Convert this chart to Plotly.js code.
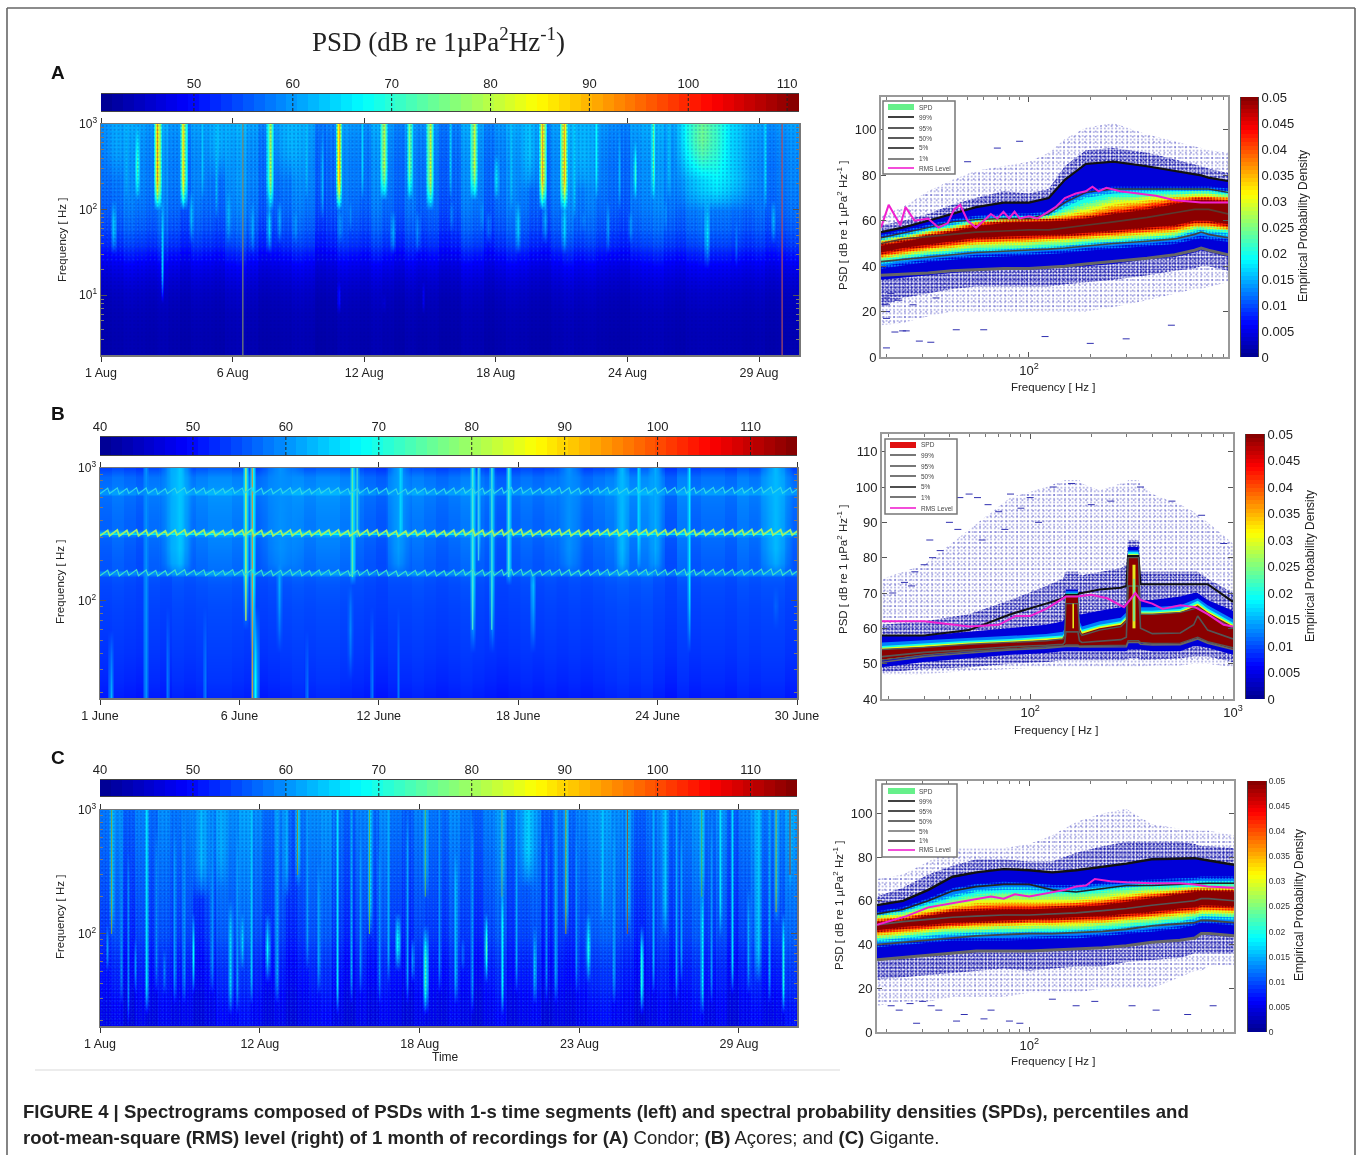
<!DOCTYPE html>
<html><head><meta charset="utf-8">
<script src="https://cdn.plot.ly/plotly-3.0.1.min.js"></script>
<style>html,body{margin:0;padding:0;background:#fff}#gd{width:1360px;height:1155px;filter:blur(.55px)}</style>
</head><body><div id="gd"></div>
<script>
/* ---------- spectrogram data ---------- */
const rowsA=[2,3,4,6,8,11,15,20,30,40,55,75,100,130,170,230,320,450,650,1000];
const baseA=[43,43,43.2,43.5,43.8,44.5,45.5,47,49.5,52,53.5,54.5,55.5,56,56.5,57,57,57.5,58,59];
const weightA=[.2,.2,.2,.2,.3,.3,.4,.5,.6,.7,.8,.8,.8,.8,.8,.8,.8,.8,.8,.8];
const liftA=[0,1,3,2,1,3,1,-1,2,1,0,3,4,2,-1,0,1,3,2,-2,-1,2,1,0,3,1,-1,2,0,1,-2,-1,3,2,-1,1,3,2,0,-1,2,4,2,3,1,0,-1,2,3,4,2,1,3,4,3,3,2,1,2,0,1,2];
const eventsA=[[1.7,.7,300,1000,61],[6.2,.7,300,1000,62],[9.4,1,250,1000,62],[20,.5,200,1000,63],[22.4,.8,200,1000,62],[28.3,1.9,130,1000,67],[27.7,1.2,250,1000,75],
[2.6,.2,140,900,73],[3.5,.28,130,1000,91],[4.65,.22,130,1000,87],[8.5,.22,120,1000,80],[11.55,.16,130,1000,90],[13.55,.22,150,1000,80],[14.7,.14,150,1000,76],[15.6,.24,130,1000,82],[17.55,.24,140,1000,82],[18.55,.16,150,400,71],[20.6,.22,120,1000,91],[21.55,.24,130,1000,90],[23,.12,150,1000,67],[24.7,.12,150,500,73],[25.5,.12,150,1000,75],
[1.55,.14,35,100,65],[3.7,.1,11,100,64],[5,.15,50,130,64],[6.65,.14,50,130,63],[7.7,.14,35,100,62],[8.45,.15,35,100,67],[8.9,.14,50,100,65],[9.6,.14,45,90,64],[11.6,.14,50,80,65],[12.05,.1,60,100,63],[13.95,.2,35,90,65],[15.05,.14,40,75,62],[16.55,.14,60,100,63],[17.9,.1,70,110,63],[18.2,.15,55,80,64],[19.5,.14,35,110,65],[20.7,.15,55,100,65],[21.55,.15,40,100,66],[22.4,.15,65,90,67],[23.5,.1,40,100,61],[24.5,.2,55,90,66],[26.05,.1,70,100,63],[27.9,.2,30,100,66],[29.2,.1,30,60,60],[30.85,.15,45,100,67],[11.55,.1,7,11,60],[13.55,.1,7,9,54],[15.3,.1,8,11,56],
[2.1,.1,150,1000,62],[5.5,.1,150,1000,63],[6.1,.1,100,1000,63],[10.1,.1,150,1000,63],[10.8,.1,100,800,62],[12.6,.1,150,1000,64],[16.5,.1,150,1000,64],[19.2,.1,120,1000,63],[22,.1,100,1000,64],[24,.1,120,800,62],[26.2,.1,150,1000,63],[30.5,.1,120,1000,65]];
const thinDayA=[7.3,31.25];
const thinLoA=[2,2];
const thinColorA=['#7d8a70','#b05060'];
const rowsB=[18.3,25,40,60,90,130,150,157,163,170,190,250,295,310,320,332,345,400,520,610,640,665,690,730,850,1000];
const baseB=[51,52,53,53.5,54,54.5,55,59,59,55.5,55.5,56,56.5,59,66,59,56.5,56.5,57,57.5,60,60,58,57.5,57,54];
const weightB=[.4,.4,.3,.3,.3,.4,.5,.7,.7,.7,.8,.9,.9,.9,.7,.9,.9,.9,.9,.9,.9,.9,.9,.9,.9,.8];
const liftB=[0,1,0,-1,1,0,2,1,2,3,3,2,1,0,1,2,3,2,3,3,2,1,0,-1,1,1,2,1,0,1,2,1,0,-1,0,1,0,1,0,1,0,1,2,3,2,3,1,-1,2,0,1,1,0,2,1,2,2,0];
const eventsB=[[3.95,.5,170,1000,61],[4.3,.5,170,1000,64],[8.5,.9,170,1000,60],[13.4,.5,170,1000,61],[20.5,.6,170,1000,60],[22.7,.3,170,1000,63],[24.1,.3,170,1000,62],[29.1,.7,170,1000,63],
[7.07,.16,70,1000,68],[7.34,.16,60,1000,68],[11.5,.16,150,1000,67],[11.7,.12,300,1000,64],[16.5,.16,60,1000,66],[16.75,.12,200,1000,63],[17.3,.16,60,1000,65],[18,.16,150,1000,66],
[7.44,.24,18.3,60,68],[13.5,.12,300,1000,65],[23.4,.12,180,1000,65],[25.5,.12,50,1000,67],[2.9,.14,18.3,1000,60],
[1.43,.14,18.3,50,63],[8.45,.14,60,170,62],[19,.14,60,160,63],[29.1,.14,70,100,64],[12.3,.1,18.3,60,58],[13.4,.1,18.3,60,58],[5.37,.1,18.3,60,58],[3.8,.1,18.3,60,58],[9.6,.1,18.3,40,58],[11.4,.14,40,100,62],[25.5,.1,70,120,62]];
const thinDayB=[7.07,7.34,11.5,11.7,16.5,16.75,17.3,18];
const thinLoB=[70,18.3,150,300,60,200,60,150];
const thinColorB=['#b8e060','#c09a50','#60e8a0','#40d0d0','#50e0d0','#40c8e8','#40d8d8','#50e0d8'];
const rowsC=[18,22,27,33,40,50,62,77,95,120,150,190,240,300,380,480,600,750,1000];
const baseC=[47,47,47.5,48,49,49.5,50,51,52,52.5,53,53.5,54,54.5,55,55.5,56,56.5,57];
const weightC=[.6,.6,.6,.7,.7,.7,.8,.8,.9,.9,.9,.9,.9,.9,.9,.9,.9,.9,.9];
const liftC=[1,3,-1,2,0,3,1,2,-1,1,4,3,5,3,0,2,-1,1,3,4,1,-1,2,0,3,1,-1,2,1,0,3,1,-1,2,4,0,2,3,-1,1,0,2,4,5,3,2,-1,1,3,0,2,4,1,3,-1,2,4,1,2,5,4,2];
const eventsC=[[1.5,.14,100,1000,64],[9.5,.14,300,1000,65],[12.6,.14,100,1000,65],[15,.14,200,1000,64],[18.3,.14,200,1000,65],[21.05,.14,100,1000,66],[23.7,.14,100,1000,64],[26.9,.14,200,1000,65],[30.1,.14,150,1000,65],[30.7,.14,300,1000,64],
[3,.12,25,1000,66],[5.35,.45,200,1000,63],[6.6,.15,25,150,66],[7.1,.12,60,130,68],[7.5,.12,30,1000,64],[8.2,.15,50,120,68],[11.2,.1,25,1000,66],[13.8,.14,60,130,72],[15,.15,25,100,74],[16.3,.1,30,400,63],[17.6,.12,50,130,74],[18.3,.12,25,200,68],[19.4,.4,300,1000,65],[19.7,.1,30,100,64],[22,.14,50,120,70],[24.3,.12,25,100,70],[25.3,.14,100,1000,64],[26.9,.12,25,200,68],[27.7,.1,100,1000,66],[28.2,.1,35,1000,66],[29.3,.25,45,1000,64],[30.4,.12,25,120,70],
[14.45,.12,50,90,66],[5,.12,35,120,68],[3.75,.12,40,70,64],[1.3,.12,60,110,66],[2.5,.12,40,80,62],[16.6,.12,60,90,64],[4.2,.1,30,600,60],[10.4,.1,40,300,61],[20.2,.1,30,600,60],[26,.1,50,600,61],[28.9,.1,40,200,62],[13,.1,30,500,60],[6.2,.3,300,1000,62],[22.6,.1,150,1000,64],[9,.25,200,1000,62],
[1.9,.1,30,1000,60],[2.2,.1,20,400,59],[3.4,.1,40,600,60],[4.6,.1,30,800,60],[5.8,.1,40,1000,60],[6.9,.1,25,700,61],[8.6,.1,30,1000,62],[9.9,.1,60,1000,61],[11.8,.1,30,1000,62],[12.2,.1,40,600,60],[13.4,.1,50,1000,62],[14.2,.1,30,800,61],[15.6,.1,40,1000,60],[17,.1,25,800,61],[18.9,.1,40,1000,62],[20.6,.1,30,1000,61],[21.5,.1,40,700,60],[23.1,.1,30,900,61],[24.8,.1,40,1000,62],[25.8,.1,30,1000,62],[27.3,.1,30,800,60],[29.8,.1,30,1000,62]];
const thinDayC=[1.5,9.5,12.6,15,18.3,21.05,23.7,26.9,30.1,30.7];
const thinLoC=[100,300,100,200,200,100,100,200,150,300];
const thinColorC=['#80a040','#809040','#60b060','#60b060','#60a080','#a89020','#985030','#50b060','#a0a030','#983030'];

/* harmonic tone wiggle of panel B (Hz), read alternately low and high */
const toneB320=[307,338,308,340,306,337,309,341,307,339,308,337,305,335,308,339,311,341,309,338,310,340,308,336,306,337,311,341,309,339,310,342,308,338,306,336,307,337,309,341,308,340,306,335,307,339,310,340,311,341,309,336,307,337,309,341,310,340,308,338,306,334,304,333,306,337,309,338,307,336,305,335,307,339,308,341,310,342,309,339,307,337,308,341,310,342,311,343,309,339,307,337,309,340,311,343,310,341,308,338,307,339,309,341,311,343,310,340,308,338,309,341,311,342,310,340,309,341,311,343,312,344,310,341,309,339,310,342,312,344,311,342,309,340,311,343,312,344,313,345,311,342,310,341,312,344];
const toneFactors=[.5,1,2.08];
const toneColors=['#40dcc8','#9cf06a','#30d4e8'];
const toneWidths=[1.2,1.8,1.2];

/* ---------- SPD A ---------- */
const fA=[18.8,24,32,42,55,75,100,125,150,190,260,380,520,650,700,760,948];
const aOutUp=[62,66,73,78,82,84,86,90,96,101,103,98,95,93,92,91,90];
const aOutLo=[14,15,18,20,20,20,20,20,20,20,22,25,28,30,30,31,33];
const aFrUp=[58,60,63,67,70,73,72,74,84,91,92,90,87,85,84,83,81];
const aFrLo=[22,26,28,30,31,31,31,31,32,33,34,36,38,39,40,40,38];
const aU05=[55,57,60,63,66,68,68,70,78,85,86,84,82,80.5,80,79,77.5];
const aL05=[34,35,36,37,38,38.5,38.5,39,39.5,40,41,43,44,46,47,46,44];
const aU12=[52.5,54.5,57,59.5,61,62,62,63,68,72,74,74,74,74,74,74,73];
const aL12=[40,41.5,43,44,45,45.5,46,46.5,47,48,49,50,51,53,53.5,53,52];
const aU20=[51.5,53,56,58,60,61,61,62,66,70,72,72.5,73,73,73,73,72];
const aL20=[42,43.5,45,46,47,47.5,48,48.5,49,50,51,52,53,55.5,56,55.5,54.5];
const aU25=[51,52.5,55,57,59.5,60.5,60.5,61.5,64,67,70,71,71.5,72,72,72,71];
const aL25=[43,44.5,46,47,48,48.5,49,49.5,50,51,52,53,54,56.5,57,56.5,56];
const aU30=[50.5,52,54.5,56.5,59,60,60.2,61,62.5,65,68,69.5,70.5,71,71,71,70];
const aL30=[44,45.5,47,48,49.5,50,50.5,51,51.5,52,53,54,55,57.5,58,57.5,56.5];
const aU35=[50,51.5,54,56,58.5,59.7,60,60.5,61.5,63,66,68,69.5,70,70,70,69.5];
const aL35=[44.5,46,48,49,50.5,51,51.5,52,52.5,53,54,55,56,58,58,58,57];
const aU40=[49.5,51,53.5,55.5,58,59.5,59.8,60,60.5,61.5,64,66.5,68.5,69.5,69.5,69.5,69];
const aL40=[45,47,48.5,50,51.5,52,52.5,53,53.2,54,55,56,57,59,59,59,57.5];
const aU47=[49,50.5,53,55,57.5,59,59.5,59.8,60,61,63,65,67.5,69,69,69,68];
const aL47=[46,48,49.5,51,52.5,53,53.5,53.8,54,55,56,57,58,60,60,60,58.5];
const aP99=[55,57,60,63,66,68,68,70,78,85,86,84,82,80.5,80,79,77.5];
const aP95=[52.5,54.5,57,59.5,60.5,61,61,63,68,72.5,74,74,74,74,74,74,72.5];
const aP50=[50,52,53,54,55,55.5,56,56,57,58,59.5,61.5,63.5,65,65,65,63];
const aP05=[42,43,44,45,46,46.5,47,47.5,48,49,50,51,52,54,55,54,52.5];
const aP01=[36,36.5,37,38,38.5,39,39,39.5,40,41,42,43.5,45,47,48,47,45];
const aRmsF=[18.8,20.5,23.4,24.8,27.5,32,36,40,43,46,50,55,60,65,70,75,80,85,90,100,110,120,135,150,170,190,205,220,240,280,340,420,520,700,948];
const aRms=[57,67,58,66,60,61,57,59,65,67,60,57,60,63,61,64,61,64,61,62,61,63,66,70,72,73,75,73,74.5,73,72,71,69,68,68];
const aDotF=[22,24,25,29,33,20,20,20,20,20,21,23,27,35,44,60,120,200,300,500,24,28,50,70,90];
const aDotV=[11,11.5,11.5,7,6.5,4,17,20,23,26,28,25,23,26,12,12,9,6,8,14,83,84,86,92,95];

/* ---------- SPD B ---------- */
const fB=[18.6,30,50,80,120,145,148,150,172,175,180,220,280,298,304,342,350,400,550,640,670,750,1000];
const bOutUp=[74,78,88,97,100,102,102,102,102,102,101,99,101,101,102,102,101,98,95,93,92,90,84];
const bOutLo=[47,47,48,48.5,49,49,49,49,49,49,49,49,49,49,49,49,49,49.5,49.5,50,50,50,49];
const bFrUp=[61,62,64,68,72,74,75,76,76,75,75,76,77,78,85,85,76,76,76,76,76,74,70];
const bFrLo=[47.5,48.5,49,50,50.5,51,51,51,51,51,51,51,51,51,51.5,51.5,51,51,51.5,52,52,52,50.5];
const bU05=[58,58,59,60,61,62,63,71,71,64,64,65,66,67,83,83,68,68,69,70,70,68,65];
const bL05=[49,50.5,51.5,52.5,53,53.5,53.5,53.5,53.5,53.5,53.5,53.5,53.5,53.5,54,54,54,53.5,53.5,55,55,54.5,52.5];
const bU12=[56,56.6,57.2,57.8,58.4,59,60,70.5,70.5,62,60.5,62,63,64.5,82,82,66,66,66.5,68,68.5,66.5,62.6];
const bU20=[55,55.8,56.5,57,57.6,58,59,70,70,61,59.6,61,62,63.5,81.5,81.5,65,65,65.5,67.2,67.8,65.6,61.6];
const bU30=[54.5,55.3,56,56.5,57.1,57.5,58.5,69.5,69.5,60.5,59,60.5,61.5,63,81,81,64.5,64.5,65,66.5,67,65,61];
const bU47=[54,54.8,55.5,56,56.6,57,58,69,69,60,58.5,60,61,62.5,80.5,80.5,64,64,64.5,66,66.5,64.5,60.5];
const bL47=[51.2,52.5,53.5,54.3,54.8,55,55,55,55,55,55,55,55,55,56,56,55.8,55.5,55.5,57,57,56,54];
const bP99=[58,58,59.5,64,67,68.5,69,69.5,69.5,70,70,71,71.5,72,80.5,80.5,72.5,72.5,72.5,72.5,72.5,72.5,67.5];
const bP95=[54,54.6,55.5,56,56.5,57,58,67,67,59,58,59.5,60.5,62,80,80,64,64,64.5,65.5,66,64,60];
const bP50=[52,53.2,54,54.8,55.2,55.5,56,59,59,56.5,56,56.3,56.8,57.5,72,72,60,58.5,58.7,61,63.5,59.5,57];
const bP05=[51,52.5,53.5,54.3,54.8,55,55,55.3,55.3,55,55,55,55,55.2,56.5,56.5,56,55.7,55.8,57.2,57.5,56.2,54.5];
const bP01=[50.4,52,53,53.9,54.4,54.7,54.7,54.9,54.9,54.7,54.7,54.7,54.7,54.8,56,56,55.5,55.3,55.4,56.8,57,55.8,54];
const bRmsF=[18.6,30,50,70,85,100,120,150,170,200,240,290,310,330,350,400,450,550,650,750,900,1000];
const bRms=[62,62,60.5,61,63.5,63.5,65.5,69,69,69.5,68.5,66,68,70,68,67,65.5,66.5,66,64,61,60.5];
const bPeakF=[163,163,325,325,325,325];
const bPeakV=[60,67,60,78,62,74];
const bDotF=[24,27,30,32,36,40,45,50,55,62,70,80,90,100,110,130,160,200,250,350,500,700,900,21,26,33,44,58,75];
const bDotV=[73,76,78,85,82,90,97,98,97,95,93,98,94,97,90,100,101,95,96,100,96,92,84,70,72,80,88,85,88];

/* ---------- SPD C ---------- */
const fC=[17.9,24,32,42,55,75,100,130,170,230,300,400,550,650,700,760,1013];
const cOutUp=[70,72,78,84,84,84,86,90,96,100,102,95,93,92,92,92,90];
const cOutLo=[12,14,14,16,16,16,18,18,18,20,20,20,25,28,28,30,30];
const cFrUp=[62,66,72,76,79,79,78,78,82,85,87,87,87,86,85,85,84];
const cFrLo=[24,25,26,27,28,29,28,29,30,30,32,33,34,36,36,36,36];
const cU05=[58,60,65,71,73,74.5,74,73,74,75.5,77,79,79.5,79.5,79,78.5,76.5];
const cL05=[33,34,35,36,36.5,37,37,37,38,38,39,41,42,43,44.5,44.5,43.5];
const cU12=[54,56,60,64.5,66.5,67.5,67,66,66,67,68,68.5,69,69.5,70,70,70];
const cL12=[40,41,42,43,43,43,43.5,44,44,45,46,47,48.5,50,51,51,50];
const cU20=[53,55,58.5,61.5,64,65,65,64,64,65,66,67,67.5,68,68,68,68];
const cL20=[42,43,44,45,45.5,45.5,46,46,46.5,47,48,49,50.5,52,53,53,52.5];
const cU25=[52.5,54,57,60,62,63,63,62.5,62.5,63.5,65,65.5,66,66.5,66.5,66.5,66.5];
const cL25=[43,44,45.5,46,46.5,47,47,47.5,47.5,48.5,49.5,50.5,52,53,54,54,53.5];
const cU30=[52,53,56,58,60,60.5,60.5,60.5,60.5,61.5,63,64,65,65.5,65.5,65.5,65.5];
const cL30=[44,45,46.5,47.5,48,48.5,48.5,49,49,50,51,52,53.5,54.5,55,55,54.5];
const cU35=[51,52,54.5,56.5,58,58.5,58.5,58.5,59,60,61.5,63,64,65,65,65,65];
const cL35=[45,46,47.5,48.5,49,49.5,50,50,50.5,51,52,53,54.5,55,56,56,55.5];
const cU40=[50.5,51.5,53.5,55.5,56.5,57,57,57.5,58,59,60.5,62,63.5,64.5,64.5,64.5,64.5];
const cL40=[46,47,48,49,50,50.5,51,51,51.5,52,53,54,55.5,56,57,57,56.5];
const cU47=[50,51,53,55,55.5,56,56,56.5,57,58,59.5,61,63,64,64.5,64.5,64];
const cL47=[46.5,48,49,50,50.5,51,51.5,52,52.5,53,54,55,56.5,57,58,58,57.5];
const cP99=[58,60,65,71,73,74.5,74,73,74,75.5,77,79,79.5,79.5,79,78.5,76.5];
const cP95=[54,56,60,64.5,66.5,67.5,67.5,65,64,65.5,67,67,67.5,68,68,68,68];
const cP50=[49,50.5,51.5,52.5,53,53.5,53.5,54,54.5,55.5,56.5,58,59.5,60,61,61,60];
const cP05=[40,41,42,43,44,44.5,45,45,45.5,46,47,48.5,49.5,50,51,51,50];
const cP01=[33,34,35,36,37,37,37,37.5,38,38.5,39.5,41,42,43,45,45,44];
const cRmsF=[17.9,25,32,42,55,65,75,85,100,115,130,150,170,190,210,250,300,400,550,650,750,1013];
const cRms=[49,53,57,59,61,62,61,63,62,63,64,65,66.5,67,70,69,68.5,68,68,67.5,66.5,66];
const cDotF=[21,23,26,28,30,33,36,44,48,60,65,80,90,130,170,210,320,420,600,800];
const cDotV=[12,10,13,4,14,12,10,5,8,6,10,5,4,15,12,14,12,10,8,12];

/* ---------- labels ---------- */
const legendLabels=['SPD','99%','95%','50%','5%','1%','RMS Level'];
const legendSwatchA=['#66f08a','#111','#333','#333','#222','#666','#f020d0'];
const legendSwatchB=['#e01010','#555','#555','#555','#222','#555','#f020d0'];
const legendSwatchC=['#66f08a','#111','#222','#444','#777','#333','#f020d0'];
const dbTicks=[40,50,60,70,80,90,100,110];
const densityTicks=[0,.005,.01,.015,.02,.025,.03,.035,.04,.045,.05];
const densityText=['0','0.005','0.01','0.015','0.02','0.025','0.03','0.035','0.04','0.045','0.05'];
const minorDecades=[2,3,4,5,6,7,8,9,20,30,40,50,60,70,80,90,200,300,400,500,600,700,800,900];
const jet=[[0,'#00008f'],[.125,'#0000ff'],[.375,'#00ffff'],[.625,'#ffff00'],[.875,'#ff0000'],[1,'#800000']];
const levelColors={c05:'#0000d8',c12:'#0080ff',c20:'#19ffe6',c25:'#80ff80',c30:'#e6ff1a',c35:'#ff9900',c40:'#ff2200',c47:'#8b0000'};

/* ---------- helpers ---------- */
const W=1360,H=1155,SANS='"Liberation Sans",Arial,sans-serif',NARROW='"Liberation Sans Narrow","Liberation Sans",sans-serif';
const data=[],shapes=[],annotations=[],layout={};
let axN=0;
function addAxes(x0,x1,y0,y1,xa,ya){
  axN++;const s=axN===1?'':axN;
  layout['xaxis'+s]=Object.assign({domain:[x0/W,x1/W],anchor:'y'+s,fixedrange:true,showgrid:false,zeroline:false},xa);
  layout['yaxis'+s]=Object.assign({domain:[1-y1/H,1-y0/H],anchor:'x'+s,fixedrange:true,showgrid:false,zeroline:false},ya);
  return {x:'x'+s,y:'y'+s};
}
function ann(text,px,py,size,o){annotations.push(Object.assign({text,x:px/W,y:1-py/H,xref:'paper',yref:'paper',showarrow:false,xanchor:'center',yanchor:'middle',font:{size,family:SANS,color:'#222'}},o||{}));}
function spectroMatrix(days,rows,base,weight,lift,events,liftStep){
  const z=rows.map((f,r)=>days.map((d,c)=>{const i=Math.min(lift.length-1,Math.floor((d-days[0])/liftStep));return base[r]+lift[i]*weight[r];}));
  const step=days[1]-days[0];
  events.forEach(e=>{const ic=Math.round((e[0]-days[0])/step);const n=Math.max(1,Math.round(e[1]/step*(e[1]<.3?.6:1)));
    const inRange=rows.map((f,r)=>(f>=e[2]&&f<=e[3])?r:-1).filter(r=>r>=0);if(!inRange.length)return;
    const rLo=inRange[0],rHi=inRange[inRange.length-1];
    inRange.forEach(r=>{
      let a=1;
      if(rLo>0){if(r===rLo)a*=.45;else if(r===rLo+1)a*=.8;}
      if(rHi<rows.length-1){if(r===rHi)a*=.45;else if(r===rHi-1)a*=.8;}
      for(let c=Math.max(0,ic-n);c<=Math.min(days.length-1,ic+n);c++){
        const cur=z[r][c];const v=cur+(e[4]-cur)*a*(1-Math.abs(c-ic)/(n+1));if(v>cur)z[r][c]=v;}
    });});
  return z;
}
function timeGrid(a,b,step){const d=[];for(let v=a;v<=b+1e-6;v+=step)d.push(+v.toFixed(2));return d;}
function spectro(box,range,rows,base,weight,lift,events,liftStep,ylog,tickD,tickT,yvals,ytext,lo,hi){
  const ax=addAxes(box[0],box[1],box[2],box[3],
   {type:'linear',range:range,tickmode:'array',tickvals:tickD,ticktext:tickT,ticks:'outside',ticklen:5,tickcolor:'#333',mirror:'ticks',showline:true,linecolor:'#777',linewidth:1.5,tickfont:{size:12.5,family:NARROW,color:'#222'}},
   {type:'log',range:ylog,tickmode:'array',tickvals:yvals,ticktext:ytext,ticks:'inside',ticklen:6,tickcolor:'#555',mirror:'ticks',showline:true,linecolor:'#777',linewidth:1.5,tickfont:{size:12,family:NARROW,color:'#222'},
    minor:{tickmode:'array',tickvals:minorDecades,ticks:'inside',ticklen:3,tickcolor:'#777'}});
  const days=timeGrid(range[0],range[1],.05);
  data.push({type:'heatmap',x:days,y:rows,z:spectroMatrix(days,rows,base,weight,lift,events,liftStep),zmin:lo,zmax:hi,colorscale:jet,showscale:false,zsmooth:'best',xaxis:ax.x,yaxis:ax.y,hoverinfo:'skip'});
  return ax;
}
function thinLines(ax,days,los,colors,width){days.forEach((d,i)=>curve(ax,[d,d],[los[i],1000],colors[i],width));}
function topBar(box,lo,hi,ticks){
  const ax=addAxes(box[0],box[1],box[2],box[3],
   {range:[lo,hi],side:'top',tickmode:'array',tickvals:ticks,ticktext:ticks.map(String),ticks:'',tickfont:{size:13,family:NARROW,color:'#222'},showline:true,mirror:true,linecolor:'#444',linewidth:1},
   {range:[-.5,.5],visible:false});
  const lv=[];for(let i=0;i<64;i++)lv.push(lo+(hi-lo)*(i+.5)/64);
  data.push({type:'heatmap',x:lv,y:[0],z:[lv],zmin:lo,zmax:hi,colorscale:jet,showscale:false,xaxis:ax.x,yaxis:ax.y,hoverinfo:'skip'});
  ticks.forEach(t=>{if(t>lo)shapes.push({type:'line',xref:ax.x,yref:ax.y+' domain',x0:t,x1:t,y0:0,y1:1,line:{color:'#222',width:1,dash:'3px,2px'},layer:'above'});});
}
function sideBar(box,tickSize,tickColor,labelX,labelY,labelSize){
  const ax=addAxes(box[0],box[1],box[2],box[3],{range:[-.5,.5],visible:false},
   {range:[0,.05],side:'right',tickmode:'array',tickvals:densityTicks,ticktext:densityText,ticks:'',tickfont:{size:tickSize,family:SANS,color:tickColor},showline:true,mirror:true,linecolor:'#444',linewidth:1});
  const lv=[];for(let i=0;i<64;i++)lv.push(.05*(i+.5)/64);
  data.push({type:'heatmap',x:[0],y:lv,z:lv.map(v=>[v]),zmin:0,zmax:.05,colorscale:jet,showscale:false,xaxis:ax.x,yaxis:ax.y,hoverinfo:'skip'});
  ann('Empirical Probability Density',labelX,labelY,labelSize,{textangle:-90,font:{size:labelSize,family:SANS,color:'#222'}});
}
function band(ax,xs,up,lo,color,pattern){
  const t={type:'scatter',mode:'lines',x:xs.concat(xs.slice().reverse()),y:up.concat(lo.slice().reverse()),fill:'toself',line:{width:0,color:color},fillcolor:pattern?'rgba(255,255,255,0)':color,xaxis:ax.x,yaxis:ax.y,hoverinfo:'skip',showlegend:false};
  if(pattern)t.fillpattern=pattern;
  data.push(t);
}
function stip(c,size,sol,op){return {shape:'.',fgcolor:c,fgopacity:op==null?1:op,bgcolor:'rgba(255,255,255,0)',size:size,solidity:sol};}
function level(ax,xs,up,lo,color,pad){
  band(ax,xs,up.map(v=>v+pad),lo.map(v=>v-pad),color,stip(color,3.1,.5));
  band(ax,xs,up,lo,color);
}
function curve(ax,xs,ys,color,width){data.push({type:'scatter',mode:'lines',x:xs,y:ys,line:{color:color,width:width},xaxis:ax.x,yaxis:ax.y,hoverinfo:'skip',showlegend:false});}
function dots(ax,xs,ys){data.push({type:'scatter',mode:'markers',x:xs,y:ys,marker:{symbol:'line-ew',size:5,line:{width:1,color:'#3030b0'},color:'#3030b0'},xaxis:ax.x,yaxis:ax.y,hoverinfo:'skip',showlegend:false});}
function fringe(ax,xs,ou,ol,fu,fl){
  band(ax,xs,ou,ol,'#6060c8',stip('#4040c0',3.7,.09));
  band(ax,xs,ou,ol,'#6060c8',stip('#4040c0',5.3,.06));
  band(ax,xs,fu,fl,'#2020b0',stip('#2020b0',2.9,.38));
  band(ax,xs,fu,fl,'#2020b0',stip('#2020b0',4.1,.22));
}
function speckle(ax,x0,x1,f0,f1,fLight,fMid){
  const xs=[x0,x1];
  band(ax,xs,[f1,f1],[fMid,fMid],'#30d0ff',stip('#30d0ff',4.3,.12,.2));
  band(ax,xs,[f1,f1],[fLight,fLight],'#30d0ff',stip('#30d0ff',2.7,.2,.22));
  band(ax,xs,[f1,f1],[f0,f0],'#000090',stip('#000090',3.9,.2,.25));
}
function spdAxes(box,xr,yr,yticks,xticks,xtext,ySize){
  return addAxes(box[0],box[1],box[2],box[3],
   {type:'log',range:xr.map(Math.log10),tickmode:'array',tickvals:xticks,ticktext:xtext,ticks:'inside',ticklen:5,tickcolor:'#555',mirror:'ticks',showline:true,linecolor:'#999',linewidth:2,tickfont:{size:13,family:SANS,color:'#222'},
    minor:{tickmode:'array',tickvals:minorDecades,ticks:'inside',ticklen:3,tickcolor:'#777'}},
   {range:yr,tickmode:'array',tickvals:yticks,ticktext:yticks.map(String),ticks:'inside',ticklen:5,tickcolor:'#555',mirror:'ticks',showline:true,linecolor:'#999',linewidth:2,tickfont:{size:ySize,family:SANS,color:'#222'}});
}
function legendBox(x0,x1,y0,y1,rowY,swX0,swX1,txtX,cols){
  shapes.push({type:'rect',xref:'paper',yref:'paper',x0:x0/W,x1:x1/W,y0:1-y0/H,y1:1-y1/H,fillcolor:'#fff',line:{color:'#777',width:1.5},layer:'above'});
  legendLabels.forEach((lab,i)=>{
    shapes.push({type:'line',xref:'paper',yref:'paper',x0:swX0/W,x1:swX1/W,y0:1-rowY[i]/H,y1:1-rowY[i]/H,line:{color:cols[i],width:i===0?6:1.6},layer:'above'});
    ann(lab,txtX,rowY[i],6.5,{xanchor:'left',font:{size:6.5,family:SANS,color:'#444'}});
  });
}

/* ---------- top row ---------- */
topBar([101,799,94,111],40.6,111.2,[50,60,70,80,90,100,110]);
const sA=spectro([101,799,124,355],[1,32],rowsA,baseA,weightA,liftA,eventsA,.5,[Math.log10(2),3],[1,6.845,12.69,18.535,24.38,30.225],['1 Aug','6 Aug','12 Aug','18 Aug','24 Aug','29 Aug'],[10,100,1000],['10<sup>1</sup>','10<sup>2</sup>','10<sup>3</sup>'],40.6,111.2);
speckle(sA,1,32,2,1000,55,25);
thinLines(sA,thinDayA,thinLoA,thinColorA,1.2);
const axA=spdAxes([881,1228,97,357],[18.8,948],[0,114.5],[0,20,40,60,80,100],[100],['10<sup>2</sup>'],13);
fringe(axA,fA,aOutUp,aOutLo,aFrUp,aFrLo);
band(axA,fA,aU05,aL05,levelColors.c05);level(axA,fA,aU12,aL12,levelColors.c12,1.2);level(axA,fA,aU20,aL20,levelColors.c20,1.2);level(axA,fA,aU25,aL25,levelColors.c25,1);level(axA,fA,aU30,aL30,levelColors.c30,1);level(axA,fA,aU35,aL35,levelColors.c35,1);level(axA,fA,aU40,aL40,levelColors.c40,1);level(axA,fA,aU47,aL47,levelColors.c47,1);
dots(axA,aDotF,aDotV);
curve(axA,fA,aP95,'#333',1.4);curve(axA,fA,aP50,'#5a3a30',1.6);curve(axA,fA,aP05,'#444',1.6);curve(axA,fA,aP01,'#666',3);curve(axA,fA,aP99,'#111',2.2);curve(axA,aRmsF,aRms,'#f020d0',2);
sideBar([1241,1258,97,357],13,'#222',1303,226,12);
legendBox(883,955,101,174,[107,117,128,138,148,159,168],888,914,917,legendSwatchA);

/* ---------- middle row ---------- */
topBar([100,797,437,455],40,115,dbTicks);
const sB=spectro([100,797,468,698],[1,30],rowsB,baseB,weightB,liftB,eventsB,.5,[Math.log10(18.3),3],[1,6.8,12.6,18.4,24.2,30],['1 June','6 June','12 June','18 June','24 June','30 June'],[100,1000],['10<sup>2</sup>','10<sup>3</sup>'],40,115);
thinLines(sB,thinDayB,thinLoB,thinColorB,1.4);
toneFactors.forEach((k,i)=>{const xs=toneB320.map((_,j)=>1+Math.floor(j/2)*.4+(j%2)*.32),ys=toneB320.map(v=>v*k);curve(sB,xs,ys,toneColors[i],toneWidths[i]);});
const axB=spdAxes([882,1233,434,699],[18.6,1000],[40,115],[40,50,60,70,80,90,100,110],[100,1000],['10<sup>2</sup>','10<sup>3</sup>'],13);
fringe(axB,fB,bOutUp,bOutLo,bFrUp,bFrLo);
band(axB,fB,bU05,bL05,levelColors.c05);band(axB,fB,bU12,bL47,levelColors.c12);band(axB,fB,bU20,bL47,levelColors.c20);band(axB,fB,bU30,bL47,levelColors.c30);band(axB,fB,bU47,bL47,levelColors.c47);
dots(axB,bDotF,bDotV);
curve(axB,fB,bP99,'#111',2);curve(axB,fB,bP95,'#555',1.4);curve(axB,fB,bP50,'#555',1.6);curve(axB,fB,bP05,'#555',1.4);curve(axB,fB,bP01,'#666',1.6);
curve(axB,bPeakF.slice(0,2),bPeakV.slice(0,2),'#e6e61a',1.6);curve(axB,bPeakF.slice(2,4),bPeakV.slice(2,4),'#e6e61a',3);curve(axB,bPeakF.slice(4,6),bPeakV.slice(4,6),'#19e6e6',1);
curve(axB,bRmsF,bRms,'#f020d0',2);
sideBar([1246,1264,434,699],13,'#222',1310,566,12);
legendBox(885,957,439,514,[445,455,466,476,487,497,508],890,916,919,legendSwatchB);

/* ---------- bottom row ---------- */
topBar([100,797,780,796],40,115,dbTicks);
const sC=spectro([100,797,810,1026],[1,31],rowsC,baseC,weightC,liftC,eventsC,.5,[Math.log10(18.1),3],[1,7.88,14.76,21.64,28.5],['1 Aug','12 Aug','18 Aug','23 Aug','29 Aug'],[100,1000],['10<sup>2</sup>','10<sup>3</sup>'],40,115);
speckle(sC,1,31,18.1,1000,18.1,18.1);
thinLines(sC,thinDayC,thinLoC,thinColorC,1);
const axC=spdAxes([877,1234,781,1032],[17.9,1013],[0,114.8],[0,20,40,60,80,100],[100],['10<sup>2</sup>'],13);
fringe(axC,fC,cOutUp,cOutLo,cFrUp,cFrLo);
band(axC,fC,cU05,cL05,levelColors.c05);level(axC,fC,cU12,cL12,levelColors.c12,1.2);level(axC,fC,cU20,cL20,levelColors.c20,1.2);level(axC,fC,cU25,cL25,levelColors.c25,1);level(axC,fC,cU30,cL30,levelColors.c30,1);level(axC,fC,cU35,cL35,levelColors.c35,1);level(axC,fC,cU40,cL40,levelColors.c40,1);level(axC,fC,cU47,cL47,levelColors.c47,1);
dots(axC,cDotF,cDotV);
curve(axC,fC,cP95,'#222',1.6);curve(axC,fC,cP50,'#555',1.6);curve(axC,fC,cP05,'#444',1.8);curve(axC,fC,cP01,'#666',3);curve(axC,fC,cP99,'#111',2.4);curve(axC,cRmsF,cRms,'#f020d0',2);
sideBar([1248,1266,781,1032],8.5,'#333',1299,905,12);
legendBox(882,957,784,857,[791,801,811,821,831,841,850],888,915,917,legendSwatchC);

/* ---------- texts ---------- */
ann('PSD (dB re 1µPa<sup>2</sup>Hz<sup>-1</sup>)',438,40,27,{font:{size:27,family:'"Liberation Serif",serif',color:'#222'}});
[['A',58,72],['B',58,413],['C',58,757]].forEach(a=>ann('<b>'+a[0]+'</b>',a[1],a[2],19,{font:{size:19,family:SANS,color:'#111'}}));
[[62,240],[60,582],[60,917]].forEach(p=>ann('Frequency [ Hz ]',p[0],p[1],11.5,{textangle:-90,font:{size:11.5,family:SANS,color:'#222'}}));
const psdTitle='PSD [ dB re 1 µPa<sup>2</sup> Hz<sup>-1</sup> ]';
[[842,226],[842,570],[838,906]].forEach(p=>ann(psdTitle,p[0],p[1],11.5,{textangle:-90,font:{size:11.5,family:SANS,color:'#222'}}));
[[1053,387],[1056,730],[1053,1061]].forEach(p=>ann('Frequency [ Hz ]',p[0],p[1],11.5,{font:{size:11.5,family:SANS,color:'#222'}}));
ann('Time',445,1057,12,{font:{size:12,family:NARROW,color:'#222'}});
ann('<b>FIGURE 4 | Spectrograms composed of PSDs with 1-s time segments (left) and spectral probability densities (SPDs), percentiles and</b>',21,1111,18.55,{xanchor:'left',font:{size:18.55,family:SANS,color:'#222'}});
ann('<b>root-mean-square (RMS) level (right) of 1 month of recordings for (A)</b> Condor; <b>(B)</b> Açores; and <b>(C)</b> Gigante.',21,1137,18.55,{xanchor:'left',font:{size:18.55,family:SANS,color:'#222'}});

/* ---------- frame ---------- */
[[7,8,1355,8],[7,8,7,1155],[1355,8,1355,1155]].forEach(l=>shapes.push({type:'line',xref:'paper',yref:'paper',x0:l[0]/W,y0:1-l[1]/H,x1:l[2]/W,y1:1-l[3]/H,line:{color:'#666',width:1.6}}));
shapes.push({type:'line',xref:'paper',yref:'paper',x0:35/W,x1:840/W,y0:1-1070/H,y1:1-1070/H,line:{color:'#ececec',width:2}});

Object.assign(layout,{width:W,height:H,margin:{l:0,r:0,t:0,b:0,pad:0},paper_bgcolor:'#fff',plot_bgcolor:'#fff',showlegend:false,shapes,annotations,font:{family:SANS}});
Plotly.newPlot('gd',data,layout,{staticPlot:true,displayModeBar:false});
</script></body></html>
